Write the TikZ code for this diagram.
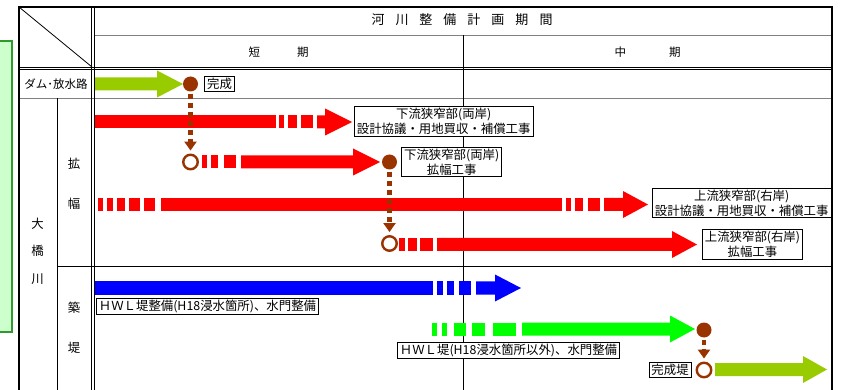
\documentclass[tikz,border=0pt]{standalone}
\usepackage{fontspec}
\setmainfont{Noto Sans CJK JP}
\usetikzlibrary{arrows.meta,positioning}
\definecolor{brn}{HTML}{993300}
\definecolor{ygreen}{HTML}{99CC00}
\definecolor{boxgreen}{HTML}{CCFFCC}
\definecolor{boxline}{HTML}{2E9A2E}
\definecolor{lgray}{HTML}{808080}

% fat arrow: colour, y, shaft start, head start, tip
\newcommand{\fatarrow}[5]{\fill[#1] (#3,#2-6.5) -- (#4,#2-6.5) -- (#4,#2-13.5)
  -- (#5,#2) -- (#4,#2+13.5) -- (#4,#2+6.5) -- (#3,#2+6.5) -- cycle;}
% bar pieces: colour, y, list from/to
\newcommand{\dashbar}[3]{\foreach \p/\q in {#3} \fill[#1] (\p,#2-6.5) rectangle (\q,#2+6.5);}

\begin{document}
\begin{tikzpicture}[x=1pt,y=-1pt,font=\fontsize{12.4}{15}\selectfont,
    lbl/.style={draw,fill=white,inner xsep=2.5pt,inner ysep=1.5pt,align=center,line width=0.8pt},
    dot/.style={circle,fill=brn,minimum size=15pt,inner sep=0pt},
    ring/.style={circle,draw=brn,line width=2.4pt,fill=white,minimum size=14.5pt,inner sep=0pt},
    dotline/.style={draw=brn,line width=4.5pt,dash pattern=on 5pt off 4pt,
      -{Triangle[width=12pt,length=9pt]},shorten >=3pt,shorten <=2pt},
    tline/.style={line width=0.8pt},
    tframe/.style={line width=2pt}]
  \useasboundingbox (0,0) rectangle (841,390);
  \clip (0,0) rectangle (841,390);

  % side box and table
  \fill[boxgreen,draw=boxline,line width=2pt] (-5,41) rectangle (12,332);
  \draw[tline] (19,7) -- (92,67);
  \draw[tline,lgray] (94,35) -- (832,35);
  \draw[tline] (19,67.3) -- (832,67.3) (19,69.7) -- (832,69.7);
  \draw[tline,lgray] (19,98.5) -- (832,98.5);
  \draw[tline] (91.7,7) -- (91.7,395) (94.3,7) -- (94.3,395);
  \draw[tline] (57,98.5) -- (57,395);
  \draw[tline] (57,266) -- (832,266);
  \draw[tline] (463,35) -- (463,395);
  \draw[tframe] (19,7) rectangle (832,400);

  \node[font=\fontsize{13}{15}\selectfont] (title) at (462,20) {河\hspace{11pt}川\hspace{11pt}整\hspace{11pt}備\hspace{11pt}計\hspace{11pt}画\hspace{11pt}期\hspace{11pt}間};
  \node[font=\fontsize{11.5}{13}\selectfont] (short) at (278.5,52) {短\hspace{37pt}期};
  \node[font=\fontsize{11.5}{13}\selectfont] (mid) at (647.5,52) {中\hspace{43pt}期};
  \node[font=\fontsize{11.5}{13}\selectfont] (dam) at (56,84) {ダム･放水路};
  \node (kaku) at (74,164) {拡};
  \node (haba) at (74,204) {幅};
  \node (dai) at (37.5,224) {大};
  \node (hashi) at (37.5,251) {橋};
  \node (kawa) at (37.5,279) {川};
  \node (chiku) at (74,308) {築};
  \node (tei) at (74,348) {堤};

  % bars
  \fatarrow{ygreen}{84}{95}{157}{183}
  \dashbar{red}{122}{95/276,279/284,288/297,301/313}
  \fatarrow{red}{122}{317}{325}{352}
  \dashbar{red}{162}{202/207,211/218,224/236}
  \fatarrow{red}{162}{241}{353}{380}
  \dashbar{red}{204.5}{98/103,107/113,117/125,129/140,144/155,161/562,566/571,575/583,588/600}
  \fatarrow{red}{204.5}{604}{623}{648}
  \dashbar{red}{244.5}{399/405,408/417,420/433}
  \fatarrow{red}{244.5}{437}{672}{697}
  \dashbar{blue}{288}{95/433,437/443,447/454,459/471}
  \fatarrow{blue}{288}{476}{495}{521}
  \dashbar{green}{329}{432/437,442/447,454/466,472/485,493/516}
  \fatarrow{green}{329}{522}{670}{695}
  \fatarrow{ygreen}{369.5}{715}{803}{827}

  % milestones
  \node[dot] (d1) at (190.5,84) {};
  \node[ring] (r1) at (190.5,162) {};
  \node[dot] (d2) at (389.5,162) {};
  \node[ring] (r2) at (389.5,243.5) {};
  \node[dot] (d3) at (704,330) {};
  \node[ring] (r3) at (704,370) {};
  \path (d1) edge[dotline] (r1)
        (d2) edge[dotline] (r2)
        (d3) edge[dotline] (r3);

  \node[lbl] (done) [right=6pt of d1] {完成};
  \node[lbl,anchor=west] (lowplan) at (354,121.5) {下流狭窄部(両岸)\\設計協議・用地買収・補償工事};
  \node[lbl] (lowwork) [right=4pt of d2] {下流狭窄部(両岸)\\拡幅工事};
  \node[lbl,anchor=west] (upplan) at (652,203) {上流狭窄部(右岸)\\設計協議・用地買収・補償工事};
  \node[lbl,anchor=west] (upwork) at (702,244.5) {上流狭窄部(右岸)\\拡幅工事};
  \node[lbl,anchor=west] (hwla) at (96,306) {ＨＷＬ堤整備(H18浸水箇所)、水門整備};
  \node[lbl,anchor=east] (hwlb) at (620,350.5) {ＨＷＬ堤(H18浸水箇所以外)、水門整備};
  \node[lbl] (donebank) [left=4pt of r3] {完成堤};
\end{tikzpicture}
\end{document}
